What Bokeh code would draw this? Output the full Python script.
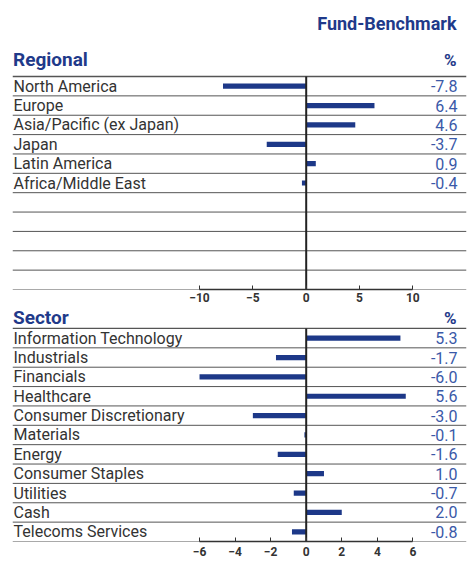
from bokeh.plotting import figure
from bokeh.models import Range1d, FixedTicker, ColumnDataSource
from bokeh.layouts import column
from bokeh.embed import file_html
from bokeh.resources import INLINE
from bokeh.core.properties import value

# ---------------- data ----------------
regions = ["North America", "Europe", "Asia/Pacific (ex Japan)", "Japan",
           "Latin America", "Africa/Middle East"]
region_vals = [-7.8, 6.4, 4.6, -3.7, 0.9, -0.4]
region_rows = 11
region_ticks = [-10, -5, 0, 5, 10]

sectors = ["Information Technology", "Industrials", "Financials", "Healthcare",
           "Consumer Discretionary", "Materials", "Energy", "Consumer Staples",
           "Utilities", "Cash", "Telecoms Services"]
sector_vals = [5.3, -1.7, -6.0, 5.6, -3.0, -0.1, -1.6, 1.0, -0.7, 2.0, -0.8]
sector_rows = 11
sector_ticks = [-6, -4, -2, 0, 2, 4, 6]

# ---------------- styles ----------------
FONT = "Roboto"
BAR = "#1d3888"
HEAD = "#1f3a8a"
VAL = "#3a59a8"
LBL = "#333333"
ROWLINE = "#555555"
FRAME_W = 454
ZERO_PX = 293.7      # zero line distance from frame left


def make_panel(cats, vals, nrows, ticks, xr, yr, frame_h, px_unit, standoff):
    p = figure(frame_width=FRAME_W, frame_height=frame_h,
               x_range=Range1d(*xr), y_range=Range1d(*yr),
               output_backend="svg", toolbar_location=None, title=None,
               y_axis_location=None, min_border_left=12, min_border_right=3,
               min_border_top=0, min_border_bottom=0)
    p.grid.visible = False
    p.outline_line_color = None
    p.background_fill_color = None
    p.border_fill_color = None

    ys = [i + 0.5 for i in range(len(cats))]
    src = ColumnDataSource(dict(y=ys, v=vals, cat=cats,
                                lab=[f"{v:.1f}" for v in vals]))
    for i in range(nrows + 1):
        p.segment(x0=xr[0], x1=xr[1], y0=i, y1=i, line_color=ROWLINE,
                  line_width=1.3 if i == 0 else 1)
    p.hbar(y="y", left=0, right="v", height=0.27, source=src,
           fill_color=BAR, line_color=None)
    p.segment(x0=0, x1=0, y0=0, y1=nrows, line_color="#222222", line_width=2)
    p.text(x=xr[0] + 1.0 / px_unit, y="y", text="cat", source=src,
           text_font=value(FONT), text_font_size="16px", text_color=LBL,
           text_align="left", text_baseline="middle")
    p.text(x=xr[0] + 445.0 / px_unit, y="y", text="lab", source=src,
           text_font=value(FONT), text_font_size="16px", text_color=VAL,
           text_align="right", text_baseline="middle")

    ax = p.xaxis[0]
    ax.ticker = FixedTicker(ticks=ticks)
    ax.bounds = (ticks[0], ticks[-1])
    ax.axis_line_color = "#333333"
    ax.axis_line_width = 1.5
    ax.major_tick_in = 4
    ax.major_tick_out = 0
    ax.major_tick_line_color = "#333333"
    ax.minor_tick_line_color = None
    ax.major_label_standoff = standoff
    ax.major_label_text_font = FONT
    ax.major_label_text_font_size = "12px"
    ax.major_label_text_font_style = "bold"
    ax.major_label_text_color = "#333333"
    return p


def head(p, x, y, txt, size, align):
    p.text(x=[x], y=[y], text=[txt], text_font=value(FONT), text_font_size=size,
           text_font_style="bold", text_color=HEAD, text_align=align,
           text_baseline="alphabetic")


# Regional panel (frame top at page y~1, first row line at y=77)
u1 = 10.667
x1 = (-ZERO_PX / u1, (FRAME_W - ZERO_PX) / u1)
r1 = 19.36
p1 = make_panel(regions, region_vals, region_rows, region_ticks, x1,
                (region_rows, -76.0 / r1), 289, u1, 3)
right1 = x1[0] + 444.0 / u1
left1 = x1[0] + 0.5 / u1
head(p1, right1, (24 - 77) / r1, "Fund-Benchmark", "18px", "right")
head(p1, left1, (60 - 77) / r1, "Regional", "19px", "left")
head(p1, right1, (60 - 77) / r1, "%", "17px", "right")

# Sector panel
u2 = 17.78
x2 = (-ZERO_PX / u2, (FRAME_W - ZERO_PX) / u2)
r2 = 19.39
p2 = make_panel(sectors, sector_vals, sector_rows, sector_ticks, x2,
                (sector_rows, -24.0 / r2), 237, u2, 5)
right2 = x2[0] + 444.0 / u2
left2 = x2[0] + 0.5 / u2
head(p2, left2, -10.5 / r2, "Sector", "19px", "left")
head(p2, right2, -10.5 / r2, "%", "17px", "right")

layout = column(p1, p2, spacing=0)
open("out.html", "w").write(file_html(layout, INLINE))
